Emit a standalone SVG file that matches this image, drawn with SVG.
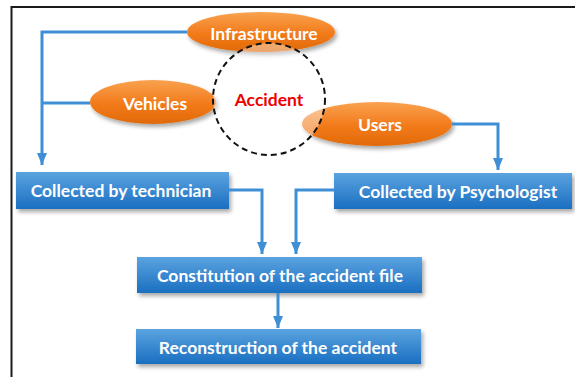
<svg xmlns="http://www.w3.org/2000/svg" width="575" height="377" viewBox="0 0 575 377">
  <defs>
    <linearGradient id="boxFill" x1="0" y1="0" x2="0" y2="1">
      <stop offset="0" stop-color="#5ba3e0"/>
      <stop offset="1" stop-color="#1a6fc1"/>
    </linearGradient>
    <linearGradient id="ovalFill" x1="0" y1="0" x2="0" y2="1">
      <stop offset="0" stop-color="#f9a24f"/>
      <stop offset="0.55" stop-color="#f27a1a"/>
      <stop offset="1" stop-color="#e06a08"/>
    </linearGradient>
    <filter id="shadow" x="-10%" y="-20%" width="125%" height="160%">
      <feGaussianBlur in="SourceAlpha" stdDeviation="2"/>
      <feOffset dx="2" dy="3" result="b"/>
      <feComponentTransfer><feFuncA type="linear" slope="0.35"/></feComponentTransfer>
      <feMerge><feMergeNode/><feMergeNode in="SourceGraphic"/></feMerge>
    </filter>
    <marker id="arrow" viewBox="0 0 12 10" refX="12" refY="5" markerWidth="12" markerHeight="10" markerUnits="userSpaceOnUse" orient="auto">
      <path d="M0,0 L12,5 L0,10 Z" fill="#3e8fd5"/>
    </marker>
  </defs>
  <style>
    .box { fill: url(#boxFill); filter: url(#shadow); }
    .oval { fill: url(#ovalFill); filter: url(#shadow); }
    .label { font-family: Lato, "Liberation Sans", sans-serif; font-weight: bold; font-size: 17.5px; fill: #ffffff; text-anchor: middle; dominant-baseline: central; }
    .link { fill: none; stroke: #3e8fd5; stroke-width: 3; }
  </style>

  <rect width="575" height="377" fill="#ffffff"/>
  <!-- frame -->
  <path d="M11.5,400 V7 H600" fill="none" stroke="#1a1a1a" stroke-width="2"/>

  <!-- source ovals -->
  <g id="infrastructure">
    <ellipse class="oval" cx="261" cy="32" rx="74" ry="20"/>
    <text class="label" x="264" y="33">Infrastructure</text>
  </g>
  <g id="vehicles">
    <ellipse class="oval" cx="153" cy="102" rx="63" ry="22"/>
    <text class="label" x="155" y="103">Vehicles</text>
  </g>
  <g id="users">
    <ellipse class="oval" cx="377" cy="124" rx="75" ry="22"/>
    <text class="label" x="380" y="124">Users</text>
  </g>

  <!-- accident circle -->
  <g id="accident">
    <circle cx="269" cy="99" r="56" fill="#ffffff" fill-opacity="0.4" stroke="#111111" stroke-width="2" stroke-dasharray="6,4"/>
    <text x="269" y="99" font-family="Lato, 'Liberation Sans', sans-serif" font-weight="bold" font-size="17.5" fill="#ee0000" text-anchor="middle" dominant-baseline="central">Accident</text>
  </g>

  <!-- process boxes -->
  <g id="technician">
    <rect class="box" x="16" y="172" width="213" height="37"/>
    <text class="label" x="121" y="190">Collected by technician</text>
  </g>
  <g id="psychologist">
    <rect class="box" x="334" y="173" width="238" height="36"/>
    <text class="label" x="458" y="191">Collected by Psychologist</text>
  </g>
  <g id="constitution">
    <rect class="box" x="137" y="257" width="285" height="36"/>
    <text class="label" x="280" y="275">Constitution of the accident file</text>
  </g>
  <g id="reconstruction">
    <rect class="box" x="136" y="329" width="285" height="35"/>
    <text class="label" x="278" y="347">Reconstruction of the accident</text>
  </g>

  <!-- connectors -->
  <g id="connectors">
    <path class="link" d="M187,32 H42 V165" marker-end="url(#arrow)"/>
    <path class="link" d="M90,103 H42"/>
    <path class="link" d="M452,124 H498 V170" marker-end="url(#arrow)"/>
    <path class="link" d="M229,190 H262 V254" marker-end="url(#arrow)"/>
    <path class="link" d="M334,190 H296 V254" marker-end="url(#arrow)"/>
    <path class="link" d="M278,293 V328" marker-end="url(#arrow)"/>
  </g>
</svg>
